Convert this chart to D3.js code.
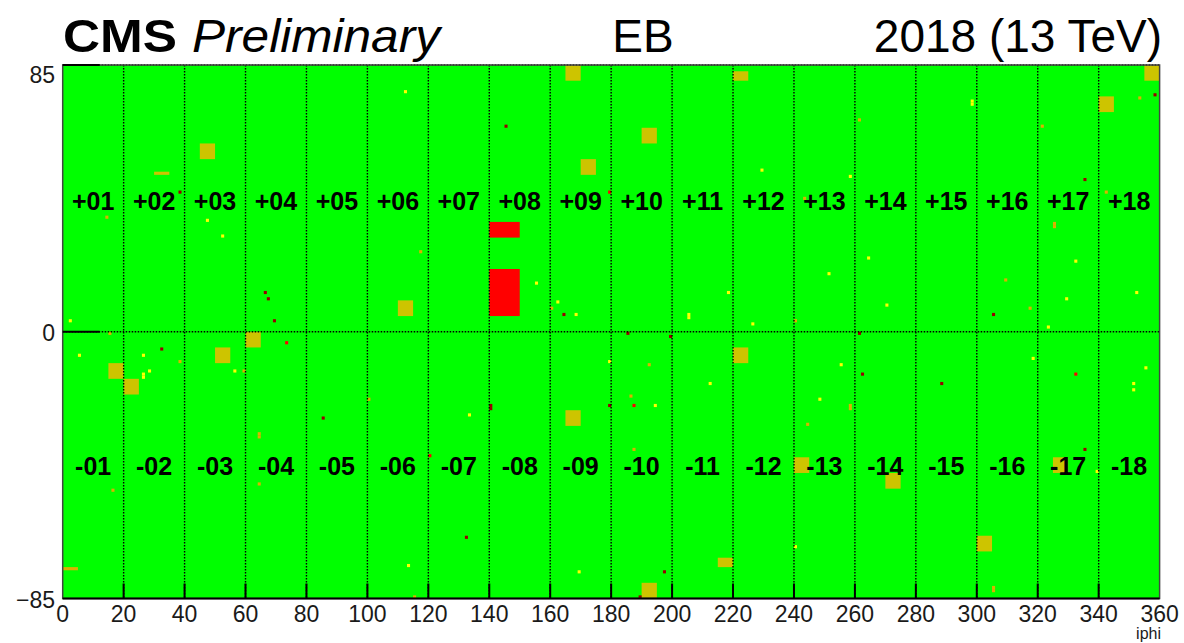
<!DOCTYPE html>
<html>
<head>
<meta charset="utf-8">
<script src="https://cdn.jsdelivr.net/npm/d3@7"></script>
<style>
  body { margin: 0; background: #fff; }
  text { font-family: "Liberation Sans", Arial, sans-serif; }
</style>
</head>
<body>
<div id="chart"></div>
<script>
// axis ticks
var xTicks = [0, 20, 40, 60, 80, 100, 120, 140, 160, 180, 200, 220, 240, 260, 280, 300, 320, 340, 360];
var yTicks = [85, 0, -85];
var yTickLabels = ['85', '0', '\u221285'];

// supermodule names, one per 20 iphi
var smPlus = ['+01', '+02', '+03', '+04', '+05', '+06', '+07', '+08', '+09',
  '+10', '+11', '+12', '+13', '+14', '+15', '+16', '+17', '+18'];
var smMinus = ['-01', '-02', '-03', '-04', '-05', '-06', '-07', '-08', '-09',
  '-10', '-11', '-12', '-13', '-14', '-15', '-16', '-17', '-18'];

// problematic trigger towers / strips: [iphi0, iphi1, ieta0, ieta1]
var towers = [
  [45, 50, 55, 60], [110, 115, 5, 10], [60, 65, -5, 0], [165, 170, 80, 85],
  [190, 195, 60, 65], [170, 175, 50, 55], [220, 225, 80, 83], [355, 360, 80, 85],
  [340, 345, 70, 75], [50, 55, -10, -5], [15, 20, -15, -10], [20, 25, -20, -15],
  [220, 225, -10, -5], [165, 170, -30, -25], [240, 245, -45, -40], [215, 220, -75, -72],
  [190, 195, -85, -80], [325, 330, -45, -40], [270, 275, -50, -45], [300, 305, -70, -65],
  [30, 35, 50, 51]
];
var orangeStrips = [[0, 5, -76, -75]];

// masked / dead regions
var deadRegions = [[140, 150, 30, 35], [140, 150, 5, 20]];

// single crystals: [iphi, ieta]
var yellowXtals = [
  [2, 3], [47, 35], [52, 30], [112, 76], [155, 15], [162, 9], [168, 5], [218, 12],
  [205, 4], [205, 5], [226, 2], [251, 18], [229, 51], [298, 72], [298, 73], [258, 49],
  [264, 23], [332, 22], [352, 12], [270, 8], [329, 10], [323, 1], [5, -8], [26, -8],
  [56, -13], [28, -13], [26, -15], [26, -14], [113, -75], [179, -10], [212, -17],
  [248, -22], [194, -24], [133, -27], [240, -69], [169, -77], [318, -9], [255, -11],
  [355, -12], [351, -17], [351, -19], [339, -45]
];
var orangeXtals = [
  [14, 36], [117, 25], [160, 7], [243, 42], [240, 3], [261, 67], [321, 65], [342, 44],
  [325, 33], [325, 34], [309, 16], [317, 7], [353, 74], [15, -1], [38, -10], [59, -13],
  [100, -22], [64, -34], [64, -33], [64, -49], [16, -51], [115, -85], [192, -11],
  [186, -21], [244, -30], [187, -38], [258, -25], [258, -24], [305, -83], [305, -82]
];
var darkXtals = [
  [38, 44], [66, 12], [67, 10], [69, 3], [145, 65], [164, 5], [185, -1], [199, -2],
  [358, 75], [335, 48], [305, 5], [261, -1], [32, -6], [85, -28], [179, -24],
  [140, -25], [140, -24], [132, -66], [197, -77], [189, -85], [262, -14], [288, -17],
  [335, -38]
];
var redXtals = [[179, 44], [73, -4], [120, -40], [187, -24], [332, -14]];

var W = 1184, H = 643;

var svg = d3.select('#chart')
.append('svg')
.attr('width', W)
.attr('height', H);

var x = d3.scaleLinear().domain([0, 360]).range([62.7, 1159.6]);
var y = d3.scaleLinear().domain([-85, 85]).range([598.5, 65]);

// background: everything fine
svg.append('rect')
.attr('x', x(0))
.attr('y', y(85))
.attr('width', x(360) - x(0))
.attr('height', y(-85) - y(85))
.attr('fill', '#00ff00');

function drawBoxes(data, colour) {
  svg.append('g')
  .selectAll('rect')
  .data(data)
  .enter()
  .append('rect')
  .attr('x', function (d) { return x(d[0]); })
  .attr('y', function (d) { return y(d[3]); })
  .attr('width', function (d) { return x(d[1]) - x(d[0]); })
  .attr('height', function (d) { return y(d[2]) - y(d[3]); })
  .attr('fill', colour);
}

function drawXtals(data, colour) {
  drawBoxes(data.map(function (d) { return [d[0], d[0] + 1, d[1], d[1] + 1]; }), colour);
}

drawBoxes(towers, '#cdc400');
drawBoxes(orangeStrips, '#dcb000');
drawBoxes(deadRegions, '#ff0000');
drawXtals(yellowXtals, '#ffff00');
drawXtals(orangeXtals, '#dcb000');
drawXtals(darkXtals, '#990000');
drawXtals(redXtals, '#ff0000');

// supermodule boundaries (dotted)
svg.append('g')
.selectAll('line')
.data(xTicks.slice(1, -1))
.enter()
.append('line')
.attr('x1', function (d) { return x(d); })
.attr('x2', function (d) { return x(d); })
.attr('y1', y(85))
.attr('y2', y(-85))
.attr('stroke', '#000')
.attr('stroke-width', 1.4)
.attr('stroke-dasharray', '1.5,1.5');

svg.append('g')
.selectAll('line')
.data([85, 0])
.enter()
.append('line')
.attr('x1', x(0))
.attr('x2', x(360))
.attr('y1', function (d) { return y(d); })
.attr('y2', function (d) { return y(d); })
.attr('stroke', '#000')
.attr('stroke-width', 1.4)
.attr('stroke-dasharray', '1.5,1.5');

// frame
svg.append('rect')
.attr('x', x(0))
.attr('y', y(85))
.attr('width', x(360) - x(0))
.attr('height', y(-85) - y(85))
.attr('fill', 'none')
.attr('stroke', '#444')
.attr('stroke-width', 1.5);

svg.append('line')
.attr('x1', x(0))
.attr('x2', x(360))
.attr('y1', y(-85))
.attr('y2', y(-85))
.attr('stroke', '#000')
.attr('stroke-width', 2);

// tick marks
svg.append('g')
.selectAll('line')
.data(xTicks.slice(1, -1))
.enter()
.append('line')
.attr('x1', function (d) { return x(d); })
.attr('x2', function (d) { return x(d); })
.attr('y1', y(-85))
.attr('y2', y(-85) - 15)
.attr('stroke', '#000')
.attr('stroke-width', 2);

svg.append('g')
.selectAll('line')
.data([85, 0])
.enter()
.append('line')
.attr('x1', x(0))
.attr('x2', x(0) + 37)
.attr('y1', function (d) { return y(d); })
.attr('y2', function (d) { return y(d); })
.attr('stroke', '#000')
.attr('stroke-width', 2);

// tick labels
svg.append('g')
.selectAll('text')
.data(xTicks)
.enter()
.append('text')
.attr('x', function (d) { return x(d); })
.attr('y', 622)
.attr('text-anchor', 'middle')
.attr('font-size', '23px')
.attr('fill', '#1a1a1a')
.text(function (d) { return d; });

svg.append('g')
.selectAll('text')
.data(yTicks)
.enter()
.append('text')
.attr('x', 55)
.attr('y', function (d, i) { return i === 0 ? y(d) + 18 : y(d) + 9; })
.attr('text-anchor', 'end')
.attr('font-size', '23px')
.attr('fill', '#1a1a1a')
.text(function (d, i) { return yTickLabels[i]; });

svg.append('text')
.attr('x', 1161)
.attr('y', 639)
.attr('text-anchor', 'end')
.attr('font-size', '16px')
.attr('fill', '#1a1a1a')
.text('iphi');

// supermodule labels
function drawSmLabels(names, eta) {
  svg.append('g')
  .selectAll('text')
  .data(names)
  .enter()
  .append('text')
  .attr('x', function (d, i) { return x(i * 20 + 10); })
  .attr('y', y(eta))
  .attr('text-anchor', 'middle')
  .attr('dominant-baseline', 'central')
  .attr('font-size', '25px')
  .attr('font-weight', 'bold')
  .attr('fill', '#000')
  .text(function (d) { return d; });
}
drawSmLabels(smPlus, 41.8);
drawSmLabels(smMinus, -42.8);

// title line
var title = svg.append('g');
title.append('text')
.attr('x', 63)
.attr('y', 52)
.attr('font-size', '46px')
.attr('font-weight', 'bold')
.attr('textLength', 114)
.attr('lengthAdjust', 'spacingAndGlyphs')
.text('CMS');
title.append('text')
.attr('x', 192)
.attr('y', 52)
.attr('font-size', '46px')
.attr('font-style', 'italic')
.attr('textLength', 248)
.attr('lengthAdjust', 'spacingAndGlyphs')
.text('Preliminary');
title.append('text')
.attr('x', 643)
.attr('y', 52)
.attr('font-size', '46px')
.attr('text-anchor', 'middle')
.text('EB');
title.append('text')
.attr('x', 1162)
.attr('y', 52)
.attr('font-size', '46px')
.attr('text-anchor', 'end')
.text('2018 (13 TeV)');
</script>
</body>
</html>
